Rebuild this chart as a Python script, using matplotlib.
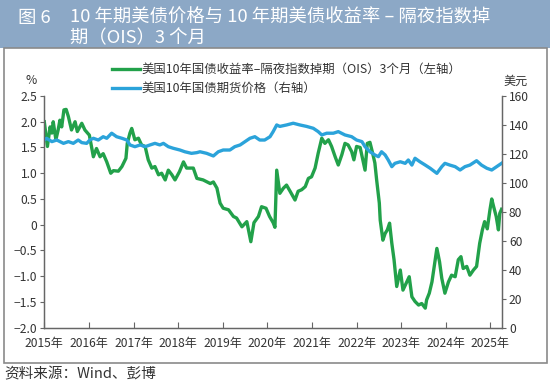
import matplotlib
matplotlib.use("Agg")
import matplotlib.pyplot as plt
from matplotlib.patches import Rectangle

plt.rcParams['font.family'] = ['Noto Sans CJK SC', 'DejaVu Sans']
plt.rcParams['axes.unicode_minus'] = True

# ---- data ----
green_t = [2015.00, 2015.07, 2015.13, 2015.17, 2015.20, 2015.26, 2015.31, 2015.35, 2015.39, 2015.44,
           2015.49, 2015.54, 2015.61, 2015.69, 2015.74, 2015.84, 2015.91, 2016.01, 2016.10, 2016.17,
           2016.25, 2016.32, 2016.40, 2016.49, 2016.55, 2016.66, 2016.74, 2016.83, 2016.86, 2016.92,
           2016.96, 2017.03, 2017.11, 2017.18, 2017.26, 2017.33, 2017.41, 2017.48, 2017.56, 2017.63,
           2017.71, 2017.78, 2017.86, 2017.93, 2018.03, 2018.12, 2018.19, 2018.34, 2018.42, 2018.56,
           2018.72, 2018.79, 2018.87, 2018.94, 2019.01, 2019.13, 2019.24, 2019.31, 2019.43, 2019.54,
           2019.63, 2019.70, 2019.80, 2019.87, 2019.97, 2020.05, 2020.13, 2020.17, 2020.21, 2020.28,
           2020.36, 2020.43, 2020.51, 2020.62, 2020.69, 2020.77, 2020.85, 2020.92, 2020.99, 2021.07,
           2021.14, 2021.22, 2021.29, 2021.37, 2021.44, 2021.52, 2021.59, 2021.67, 2021.74, 2021.81,
           2021.89, 2021.94, 2022.00, 2022.08, 2022.14, 2022.19, 2022.24, 2022.30, 2022.36, 2022.41,
           2022.45, 2022.51, 2022.53, 2022.59, 2022.64, 2022.69, 2022.74, 2022.79, 2022.84, 2022.90,
           2022.98, 2023.04, 2023.11, 2023.18, 2023.24, 2023.31, 2023.39, 2023.46, 2023.54, 2023.57,
           2023.63, 2023.69, 2023.74, 2023.80, 2023.86, 2023.91, 2023.98, 2024.06, 2024.13, 2024.21,
           2024.28, 2024.34, 2024.39, 2024.47, 2024.54, 2024.62, 2024.69, 2024.76, 2024.82, 2024.87,
           2024.93, 2024.99, 2025.03, 2025.07, 2025.13, 2025.18, 2025.21, 2025.25]
green_v = [2.00, 1.52, 1.90, 1.78, 2.00, 1.65, 1.84, 2.03, 1.90, 2.23,
           2.24, 2.10, 1.84, 2.00, 1.81, 1.97, 1.84, 1.74, 1.32, 1.48,
           1.32, 1.38, 1.22, 1.00, 1.05, 1.04, 1.13, 1.29, 1.58, 1.78,
           1.87, 1.65, 1.68, 1.55, 1.52, 1.26, 1.10, 1.13, 0.97, 1.00,
           0.87, 1.06, 0.97, 0.87, 1.03, 1.22, 1.10, 1.10, 0.90, 0.87,
           0.80, 0.83, 0.71, 0.42, 0.32, 0.29, 0.16, 0.13, -0.04, 0.06,
           -0.33, 0.04, 0.16, 0.35, 0.32, 0.16, 0.04, -0.05, 1.06, 0.61,
           0.71, 0.77, 0.65, 0.48, 0.65, 0.68, 0.74, 0.90, 0.93, 1.10,
           1.39, 1.68, 1.58, 1.65, 1.52, 1.32, 1.16, 1.36, 1.58, 1.55,
           1.42, 1.26, 1.52, 1.50, 1.26, 1.06, 1.58, 1.60, 1.39, 1.20,
           0.87, 0.42, 0.09, -0.30, -0.17, -0.10, 0.03, -0.36, -0.68, -1.20,
           -0.88, -1.27, -1.14, -1.01, -1.40, -1.49, -1.56, -1.53, -1.62, -1.46,
           -1.33, -1.11, -0.81, -0.46, -0.72, -1.04, -1.33, -1.11, -0.98, -1.01,
           -0.68, -0.62, -0.85, -0.81, -0.98, -0.88, -0.81, -0.36, -0.10, 0.06,
           -0.08, 0.29, 0.50, 0.36, 0.16, -0.10, 0.22, 0.30]

blue_t = [2015.00, 2015.05, 2015.17, 2015.28, 2015.43, 2015.54, 2015.65, 2015.76, 2015.84, 2015.95,
          2016.02, 2016.10, 2016.21, 2016.32, 2016.40, 2016.51, 2016.62, 2016.74, 2016.85, 2016.92,
          2017.03, 2017.15, 2017.26, 2017.37, 2017.48, 2017.59, 2017.67, 2017.78, 2017.89, 2018.04,
          2018.15, 2018.30, 2018.42, 2018.49, 2018.64, 2018.79, 2018.90, 2019.01, 2019.16, 2019.27,
          2019.39, 2019.50, 2019.61, 2019.72, 2019.83, 2019.94, 2020.06, 2020.13, 2020.21, 2020.28,
          2020.43, 2020.58, 2020.73, 2020.88, 2021.03, 2021.14, 2021.22, 2021.33, 2021.48, 2021.59,
          2021.74, 2021.89, 2022.00, 2022.12, 2022.19, 2022.30, 2022.41, 2022.49, 2022.56, 2022.64,
          2022.71, 2022.79, 2022.86, 2022.98, 2023.09, 2023.16, 2023.24, 2023.31, 2023.42, 2023.54,
          2023.65, 2023.80, 2023.91, 2023.98, 2024.09, 2024.21, 2024.32, 2024.43, 2024.54, 2024.69,
          2024.80, 2024.92, 2025.03, 2025.14, 2025.25]
blue_v = [129.6, 130.8, 128.5, 129.6, 127.3, 128.5, 127.3, 129.6, 127.8, 127.3,
          129.6, 130.8, 129.6, 131.9, 130.8, 134.3, 131.9, 130.8, 129.6, 126.2,
          125.0, 126.2, 125.0, 126.2, 127.3, 126.2, 127.3, 125.0, 123.9, 122.7,
          121.5, 120.4, 120.9, 121.5, 120.4, 118.6, 121.5, 122.7, 122.7, 125.0,
          126.2, 128.5, 130.8, 131.9, 129.6, 129.6, 131.9, 135.4, 140.0, 139.0,
          140.0, 141.2, 140.0, 139.0, 137.7, 135.4, 133.1, 134.3, 134.3, 135.4,
          133.1, 131.9, 129.6, 128.5, 125.0, 121.5, 119.3, 118.1, 121.5, 119.3,
          115.8, 111.2, 113.5, 114.6, 113.5, 115.8, 112.3, 117.0, 114.6, 112.3,
          110.1, 106.6, 111.2, 113.5, 112.3, 111.2, 108.9, 111.2, 112.3, 115.3,
          112.3, 110.1, 108.9, 111.2, 113.5]

year_ticks = list(range(2015, 2026))
year_labels = [f"{y}年" for y in year_ticks]
left_ticks = [-2.0, -1.5, -1.0, -0.5, 0, 0.5, 1.0, 1.5, 2.0, 2.5]
left_labels = ["−2.0", "−1.5", "−1.0", "−0.5", "0", "0.5", "1.0", "1.5", "2.0", "2.5"]
right_ticks = [0, 20, 40, 60, 80, 100, 120, 140, 160]

green_label = "美国10年国债收益率–隔夜指数掉期（OIS）3个月（左轴）"
blue_label = "美国10年国债期货价格（右轴）"
title_l1a = "图 6"
title_l1b = "10 年期美债价格与 10 年期美债收益率 – 隔夜指数掉"
title_l2 = "期（OIS）3 个月"
source = "资料来源：Wind、彭博"

GREEN = "#22A14A"
BLUE = "#2BA3DA"
TXT = "#333333"

W, H = 550, 384
fig = plt.figure(figsize=(5.5, 3.84), dpi=100)

# title band
fig.patches.append(Rectangle((0, 1 - 48 / H), 1, 48 / H, transform=fig.transFigure,
                             facecolor="#8CA8C6", edgecolor="none", zorder=0))
# chart frame
fig.patches.append(Rectangle((3.5 / W, 1 - 363 / H), 543.5 / W, (363 - 48) / H,
                             transform=fig.transFigure, facecolor="none",
                             edgecolor="#8a8a8a", lw=1.2, zorder=0))
fig.text(18 / W, 1 - 18 / H, title_l1a, color="white", fontsize=13.2, va="center", ha="left")
fig.text(70 / W, 1 - 18 / H, title_l1b, color="white", fontsize=13.2, va="center", ha="left")
fig.text(70 / W, 1 - 38 / H, title_l2, color="white", fontsize=13.2, va="center", ha="left")
fig.text(4 / W, 1 - 374 / H, source, color=TXT, fontsize=10.5, va="center", ha="left")

left = 44.3 / W
right = 502 / W
bottom = 1 - 327.7 / H
top = 1 - 96 / H
ax = fig.add_axes([left, bottom, right - left, top - bottom])
ax2 = ax.twinx()

lg, = ax.plot(green_t, green_v, color=GREEN, lw=2.4, label=green_label)
lb, = ax2.plot(blue_t, blue_v, color=BLUE, lw=2.4, label=blue_label)

ax.set_xlim(2015, 2025.26)
ax.set_ylim(-2.0, 2.5)
ax2.set_ylim(0, 160)
ax.set_xticks(year_ticks)
ax.set_xticklabels(year_labels, fontsize=8.7, color=TXT)
ax.set_yticks(left_ticks)
ax.set_yticklabels(left_labels, fontsize=8.7, color=TXT)
ax2.set_yticks(right_ticks)
ax2.set_yticklabels([str(v) for v in right_ticks], fontsize=8.7, color=TXT)

for a in (ax, ax2):
    a.spines['top'].set_visible(False)
    for s in ('left', 'right', 'bottom'):
        a.spines[s].set_color("#666666")
        a.spines[s].set_linewidth(0.9)
    a.set_facecolor("none")
ax.tick_params(axis='x', direction='in', length=4, color="#666666", pad=7)
ax.tick_params(axis='y', direction='out', length=3, color="#666666", pad=2)
ax2.tick_params(axis='y', direction='out', length=3, color="#666666", pad=2)

fig.text(31 / W, 1 - 81 / H, "%", color=TXT, fontsize=8.7, ha="center", va="center")
fig.text(516 / W, 1 - 81 / H, "美元", color=TXT, fontsize=8.7, ha="center", va="center")

fig.legend(handles=[lg, lb], loc="center left", bbox_to_anchor=(111.5 / W, 1 - 79.2 / H),
           frameon=False, fontsize=8.9, handlelength=2.3, handletextpad=0.15,
           labelspacing=0.47, borderpad=0, borderaxespad=0, labelcolor=TXT)

fig.savefig("out.png", dpi=100, facecolor="white")
